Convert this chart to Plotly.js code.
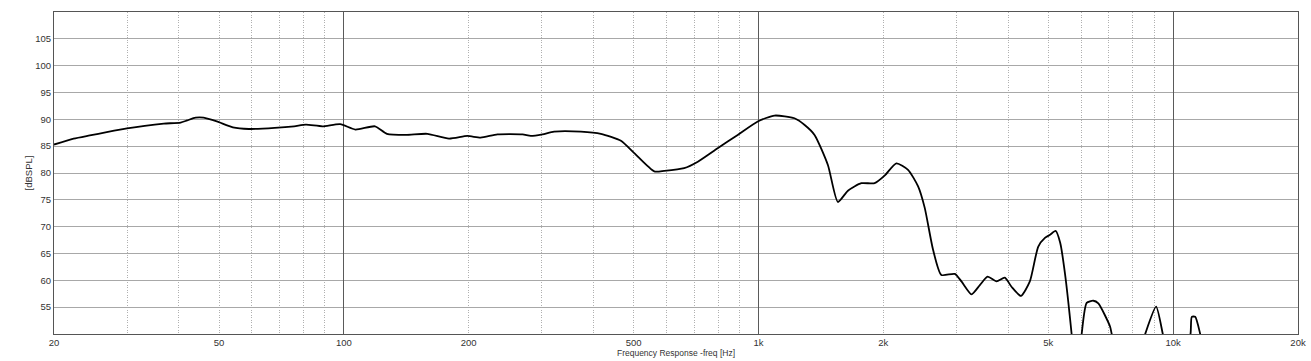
<!DOCTYPE html>
<html>
<head>
<meta charset="utf-8">
<script src="https://cdn.plot.ly/plotly-3.0.1.min.js"></script>
<style>html,body{margin:0;padding:0;background:#fff;}#chart{width:1311px;height:361px;}</style>
</head>
<body>
<div id="chart"></div>
<script>
// Frequency (Hz)
const freq = [20, 22.3, 24.4, 26.8, 30, 33.1, 36.8, 40.4, 41.9, 43.9, 45.9, 49.4, 54, 59, 68.1, 75.9, 81, 88.8, 98, 106.6,
  118.9, 127, 141, 159, 179.3, 198.6, 213.8, 234.7, 269.7, 282.4, 301.4, 321.4, 372.9, 416.7, 465.8, 501.6, 560.6, 592.6,
  662, 714, 797, 891, 996, 1093, 1221, 1290, 1365, 1470, 1554, 1643, 1770, 1906, 2014, 2150, 2294, 2426, 2517, 2636, 2760,
  2974, 3086, 3264, 3418, 3568, 3750, 3926, 4075, 4292, 4512, 4728, 4906, 5050, 5206, 5340, 5483, 5690, 5850, 6016, 6186,
  6420, 6600, 7043, 7109, 7700, 8560, 9096, 9440, 10100, 11010, 11090, 11300, 11620, 12500];
// SPL (dB)
const spl = [85.3, 86.4, 87.0, 87.6, 88.3, 88.8, 89.2, 89.4, 89.8, 90.3, 90.3, 89.6, 88.5, 88.2, 88.4, 88.7, 89.0, 88.7, 89.1, 88.1,
  88.7, 87.3, 87.1, 87.3, 86.4, 86.9, 86.6, 87.2, 87.2, 86.9, 87.2, 87.7, 87.7, 87.3, 86.0, 83.7, 80.3, 80.4,
  80.9, 82.1, 84.6, 87.1, 89.6, 90.7, 90.2, 89.0, 87.1, 81.5, 74.6, 76.7, 78.1, 78.1, 79.5, 81.8, 80.6, 77.5, 73.5, 65.7, 61.0,
  61.2, 59.8, 57.4, 59.1, 60.7, 59.8, 60.5, 58.8, 57.1, 59.8, 66.3, 67.9, 68.5, 69.2, 67.0, 61.3, 50.0, 40, 50.0, 55.8,
  56.2, 55.7, 51.4, 50.0, 38, 50.0, 55.1, 50.0, 38, 50.0, 53.2, 53.2, 50.0, 38];

// Axis ticks
const minorGrid = [30, 40, 50, 60, 70, 80, 90, 200, 300, 400, 500, 600, 700, 800, 900,
  2000, 3000, 4000, 5000, 6000, 7000, 8000, 9000];
const majorGrid = [100, 1000, 10000];
const xLabelVals = [20, 50, 100, 200, 500, 1000, 2000, 5000, 10000, 20000];
const xLabelText = ['20', '50', '100', '200', '500', '1k', '2k', '5k', '10k', '20k'];
const yTicks = [55, 60, 65, 70, 75, 80, 85, 90, 95, 100, 105];

const logRange = [Math.log10(20), Math.log10(20000)];
const font = {family: 'Liberation Sans, Arial, sans-serif', size: 9.5, color: '#333'};

const trace = {
  x: freq, y: spl, type: 'scatter', mode: 'lines',
  line: {color: '#000', width: 1.8, shape: 'spline', smoothing: 0.6},
  hoverinfo: 'skip'
};

const layout = {
  width: 1311, height: 361,
  margin: {l: 54, r: 13, t: 12, b: 27},
  paper_bgcolor: '#fff', plot_bgcolor: '#fff',
  showlegend: false,
  font: font,
  xaxis: {
    type: 'log', range: logRange,
    tickmode: 'array', tickvals: minorGrid, ticktext: minorGrid.map(() => ''),
    showgrid: true, gridcolor: '#b0b0b0', griddash: '1px,1.5px', gridwidth: 1,
    showline: false, zeroline: false, ticks: '', fixedrange: true
  },
  xaxis2: {
    type: 'log', range: logRange, overlaying: 'x',
    tickmode: 'array', tickvals: majorGrid, ticktext: majorGrid.map(() => ''),
    showgrid: true, gridcolor: '#5a5a5a', gridwidth: 1,
    showline: false, zeroline: false, ticks: '', fixedrange: true
  },
  xaxis3: {
    type: 'log', range: logRange, overlaying: 'x', side: 'bottom',
    tickmode: 'array', tickvals: xLabelVals, ticktext: xLabelText,
    tickfont: font,
    showgrid: false, showline: true, linecolor: '#555', linewidth: 1, mirror: true,
    zeroline: false, ticks: '', fixedrange: true,
    title: {text: 'Frequency Response -freq [Hz]', font: {family: 'Liberation Sans, Arial, sans-serif', size: 8.5, color: '#333'}, standoff: 2}
  },
  yaxis: {
    range: [50, 110], tickmode: 'array', tickvals: yTicks,
    showgrid: true, gridcolor: '#a8a8a8', gridwidth: 1,
    showline: true, linecolor: '#555', linewidth: 1, mirror: true,
    zeroline: false, ticks: '', tickfont: font, fixedrange: true,
    title: {text: '[dBSPL]', font: {family: 'Liberation Sans, Arial, sans-serif', size: 9.5, color: '#333'}, standoff: 0}
  }
};

const data = [
  trace,
  {x: [20, 20000], y: [0, 0], xaxis: 'x2', yaxis: 'y', mode: 'lines', line: {width: 0}, hoverinfo: 'skip', showlegend: false},
  {x: [20, 20000], y: [0, 0], xaxis: 'x3', yaxis: 'y', mode: 'lines', line: {width: 0}, hoverinfo: 'skip', showlegend: false}
];

Plotly.newPlot('chart', data, layout, {staticPlot: true, displayModeBar: false});
</script>
</body>
</html>
